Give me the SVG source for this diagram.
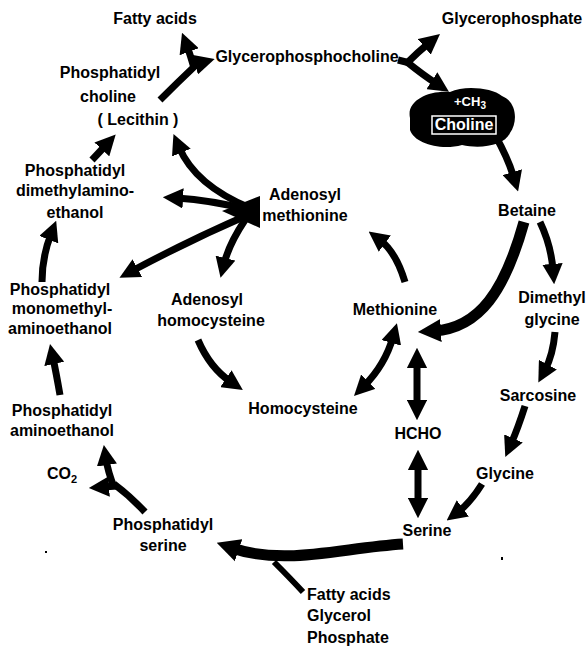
<svg xmlns="http://www.w3.org/2000/svg" width="586" height="651" viewBox="0 0 586 651">
<style>
text{font-family:"Liberation Sans",Arial,sans-serif;font-weight:bold;font-size:16px;fill:#000;text-anchor:middle}
.w{fill:#fff}
.c{fill:none;stroke:#000;stroke-width:7;stroke-linecap:butt}
.t{stroke-width:11}
.h{marker-end:url(#ah)}
.hs{marker-start:url(#as)}
.ht{marker-end:url(#aht)}
</style>
<defs>
<marker id="ah" viewBox="0 0 10 10" refX="3" refY="5" markerWidth="2.9" markerHeight="2.9" orient="auto" markerUnits="strokeWidth"><path d="M0,0 L10,5 L0,10 z"/></marker>
<marker id="as" viewBox="0 0 10 10" refX="7" refY="5" markerWidth="2.9" markerHeight="2.9" orient="auto" markerUnits="strokeWidth"><path d="M10,0 L0,5 L10,10 z"/></marker>
<marker id="aht" viewBox="0 0 10 10" refX="3" refY="5" markerWidth="2.1" markerHeight="2.2" orient="auto" markerUnits="strokeWidth"><path d="M0,0 L10,5 L0,10 z"/></marker>
</defs>
<g id="connectors">
<path class="c" d="M160,100 Q178,82 196,65"/>
<path class="c h" d="M194,65 L201,63"/>
<path class="c h" d="M194,68 Q190,54 187,46"/>
<path class="c" d="M398,60 L410,63"/>
<path class="c h" d="M407,63 Q418,52 429,43"/>
<path class="c h" d="M407,62 Q423,75 437,84"/>
<path class="c h" d="M495,135 Q508,158 514,178"/>
<path class="c h" d="M540,222 Q551,245 553,270"/>
<path class="c t ht" d="M524,222 C505,290 480,328 434,331"/>
<path class="c h" d="M555,332 Q553,355 545,370"/>
<path class="c h" d="M525,406 Q518,428 511,444"/>
<path class="c h" d="M482,484 Q470,503 458,512"/>
<path class="c h hs" d="M418,464 L418,504"/>
<path class="c h hs" d="M417,362 L417,406"/>
<path class="c t ht" d="M403,544 C340,548 285,566 232,548"/>
<path class="c" style="stroke-width:6" d="M303,592 Q290,578 274,562"/>
<path class="c" d="M145,512 Q130,496 114,484"/>
<path class="c h" d="M114,487 Q108,472 106,459"/>
<path class="c h" d="M117,486 L103,487"/>
<path class="c h" d="M60,395 Q56,372 53,358"/>
<path class="c h" d="M42,282 Q42,257 51,234"/>
<path class="c h" d="M92,160 L106,145"/>
<path class="c h" d="M250,208 Q195,185 179,147"/>
<path class="c h" d="M250,210 Q210,200 177,198"/>
<path class="c h" d="M250,214 Q190,240 132,271"/>
<path class="c h" d="M245,220 Q229,244 224,264"/>
<path class="c h" d="M405,282 Q396,252 380,240"/>
<path class="c h hs" d="M364,386 Q385,365 393,337"/>
<path class="c h" d="M198,340 Q210,368 231,382"/>
<polygon points="260,196 260,228 222,211"/>
<rect x="45" y="551" width="2" height="2"/>
<rect x="501" y="557" width="2" height="3"/>
</g>
<g id="fatty-acids-top"><text x="155" y="24">Fatty acids</text></g>
<g id="glycerophosphocholine"><text x="307" y="62">Glycerophosphocholine</text></g>
<g id="glycerophosphate"><text x="512" y="24">Glycerophosphate</text></g>
<g id="phosphatidylcholine"><text x="110" y="78">Phosphatidyl</text><text x="108" y="102">choline</text><text x="138" y="125">( Lecithin )</text></g>
<g id="choline">
<path d="M410,118 C406,100 430,90 450,92 C465,85 492,88 502,96 C517,102 518,122 510,133 C504,146 480,149 462,145 C440,151 414,143 410,130 Z"/>
<text class="w" x="470" y="106" style="font-size:13px">+CH<tspan dy="3" style="font-size:10px">3</tspan></text>
<rect x="432" y="116" width="64" height="18" fill="none" stroke="#fff" stroke-width="1.5"/>
<text class="w" x="464" y="130">Choline</text>
</g>
<g id="betaine"><text x="527" y="216">Betaine</text></g>
<g id="adenosylmethionine"><text x="305" y="200">Adenosyl</text><text x="305" y="221">methionine</text></g>
<g id="pdimethyl"><text x="75" y="176">Phosphatidyl</text><text x="75" y="196">dimethylamino-</text><text x="75" y="218">ethanol</text></g>
<g id="pmonomethyl"><text x="60" y="295">Phosphatidyl</text><text x="62" y="314">monomethyl-</text><text x="60" y="334">aminoethanol</text></g>
<g id="adenosylhomocysteine"><text x="207" y="305">Adenosyl</text><text x="211" y="326">homocysteine</text></g>
<g id="methionine"><text x="395" y="315">Methionine</text></g>
<g id="homocysteine"><text x="303" y="414">Homocysteine</text></g>
<g id="dimethylglycine"><text x="552" y="303">Dimethyl</text><text x="552" y="325">glycine</text></g>
<g id="sarcosine"><text x="538" y="401">Sarcosine</text></g>
<g id="hcho"><text x="418" y="439">HCHO</text></g>
<g id="glycine"><text x="505" y="479">Glycine</text></g>
<g id="serine"><text x="427" y="536">Serine</text></g>
<g id="pethanolamine"><text x="62" y="416">Phosphatidyl</text><text x="62" y="436">aminoethanol</text></g>
<g id="co2"><text x="62" y="479">CO<tspan dy="4" style="font-size:11px">2</tspan></text></g>
<g id="pserine"><text x="163" y="530">Phosphatidyl</text><text x="163" y="551">serine</text></g>
<g id="fattyacids-glycerol-phosphate"><text x="307" y="600" style="text-anchor:start">Fatty acids</text><text x="307" y="621" style="text-anchor:start">Glycerol</text><text x="307" y="643" style="text-anchor:start">Phosphate</text></g>
</svg>
